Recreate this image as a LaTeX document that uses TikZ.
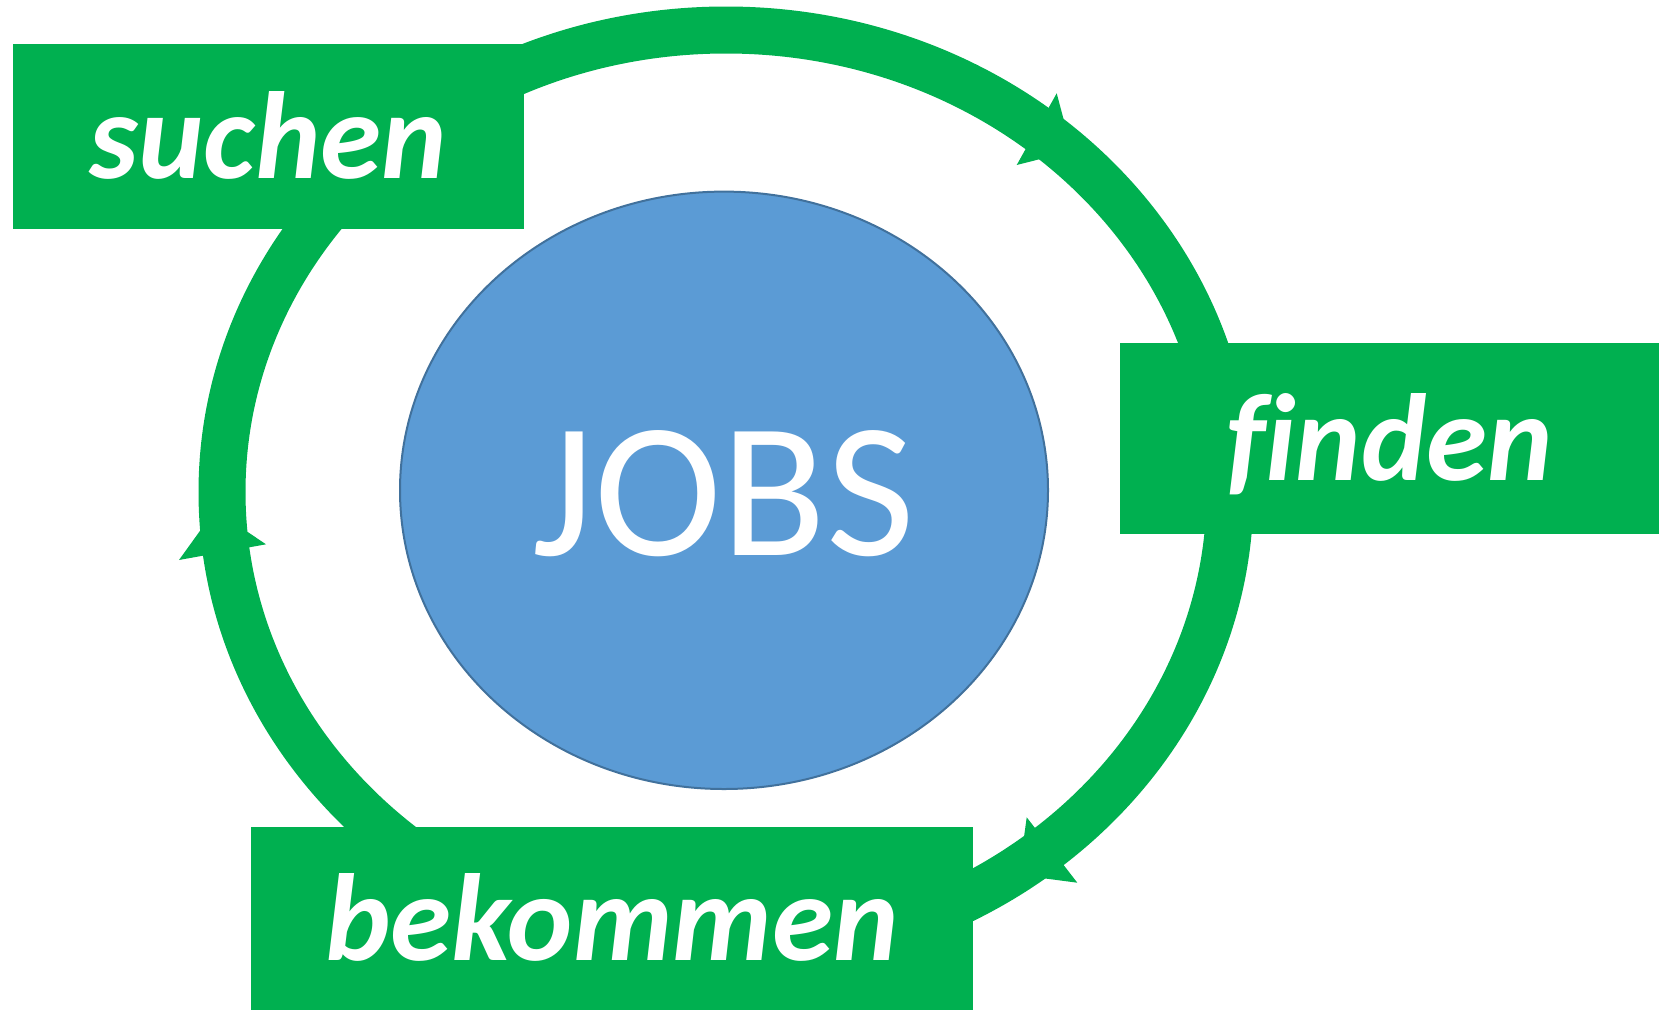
\documentclass[tikz,border=0pt]{standalone}
\usepackage{fontspec}
\setmainfont{Carlito}[Ligatures=NoCommon]
\usetikzlibrary{shapes.geometric}
\definecolor{ringgreen}{HTML}{00B050}
\definecolor{jobsblue}{HTML}{5B9BD5}
\definecolor{jobsedge}{HTML}{41719C}
\begin{document}
\begin{tikzpicture}[x=1pt,y=-1pt,
  stagebox/.style={fill=ringgreen, inner sep=0pt, text=white,
    font=\fontsize{124}{140}\selectfont\bfseries\itshape,
    text height=84pt, text depth=0pt},
  ringline/.style={draw=ringgreen, line width=47pt},
  headtip/.style={fill=ringgreen}]
\useasboundingbox (0,0) rectangle (1659,1010);
% cycle ring
\draw[ringline] (726,492) ellipse [x radius=504pt, y radius=462pt];
% arrow heads
\coordinate (h1a) at (1056.7,93.3);
\coordinate (h1t) at (1072,151);
\coordinate (h1b) at (1016.7,165);
\coordinate (h2a) at (1026.7,817.3);
\coordinate (h2t) at (1018.8,875);
\coordinate (h2b) at (1077.3,882.7);
\coordinate (h3a) at (179,560);
\coordinate (h3t) at (215,510);
\coordinate (h3b) at (266,544.3);
\fill[headtip] (h1a) -- (h1t) -- (h1b) -- cycle;
\fill[headtip] (h2a) -- (h2t) -- (h2b) -- cycle;
\fill[headtip] (h3a) -- (h3t) -- (h3b) -- cycle;
% boxes
\node[stagebox, minimum width=511pt, minimum height=184.1pt] (suchen) at (268.2,136.45) {suchen};
\node[stagebox, minimum width=538.6pt, minimum height=191.5pt] (finden) at (1389.7,438.55) {f\kern0pt inden};
\node[stagebox, minimum width=722.7pt, minimum height=182.6pt] (bekommen) at (612.05,918.7) {bekommen};
% centre
\node[ellipse, draw=jobsedge, line width=2pt, fill=jobsblue,
  minimum width=648pt, minimum height=597.4pt, inner sep=0pt, text=white,
  font=\fontsize{192.6}{220}\selectfont, text height=129.4pt, text depth=0pt] (jobs) at (724,490.3) {JOBS};
\end{tikzpicture}
\end{document}
